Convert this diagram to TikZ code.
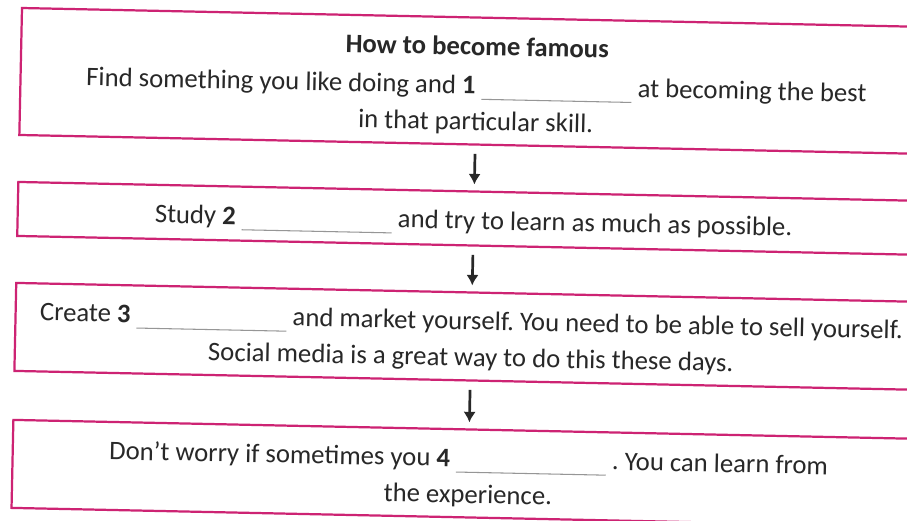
\documentclass[tikz,border=0pt]{standalone}
\usepackage{fontspec}
\setmainfont{Carlito}
\usetikzlibrary{arrows.meta}

\definecolor{framepink}{RGB}{205,35,115}
\definecolor{blankgray}{RGB}{150,150,150}
\definecolor{inkgray}{RGB}{40,40,40}

% answer gap
\newcommand{\blank}{\textcolor{blankgray}{\rule[-5pt]{4.5cm}{0.9pt}}}

\tikzset{
  stepframe/.style={draw=framepink, line width=1.9pt, inner sep=0pt, outer sep=0pt,
    minimum width=27.36cm, anchor=north west},
  steptext/.style={align=center, text=inkgray, font=\fontsize{22.8}{31}\selectfont, yshift=-3.8pt},
  flow/.style={-{Latex[length=9pt,width=10.5pt]}, line width=2.3pt, inkgray,
    shorten <=8pt, shorten >=6pt}
}

\begin{document}
\frenchspacing
\begin{tikzpicture}[x=0.03cm, y=-0.03cm]
  \clip (0,0) rectangle (907,520);
  \fill[white] (0,0) rectangle (907,520);

  \begin{scope}[rotate around={-1.2:(22,8)}, transform shape]
    % frames
    \node[stepframe, minimum height=3.81cm] (b1) at (22,8) {};
    \node[stepframe, minimum height=1.62cm] (b2) at (22,182) {};
    \node[stepframe, minimum height=2.64cm] (b3) at (22,283) {};
    \node[stepframe, minimum height=2.64cm] (b4) at (22,420) {};

    % texts
    \node[steptext] (t1) at (b1.center) {\textbf{How to become famous}\\[2pt]
      Find something you like doing and \textbf{1} \blank{} at becoming the best\\
      in that particular skill.};
    \node[steptext] (t2) at (b2.center) {Study \textbf{2} \blank{} and try to learn as much as possible.};
    \node[steptext] (t3) at (b3.center) {Create \textbf{3} \blank{} and market yourself. You need to be able to sell yourself.\\
      Social media is a great way to do this these days.};
    \node[steptext] (t4) at (b4.center) {Don't worry if sometimes you \textbf{4} \blank{} . You can learn from\\
      the experience.};

    % arrows
    \draw[flow] (b1.south) -- (b2.north);
    \draw[flow] (b2.south) -- (b3.north);
    \draw[flow] (b3.south) -- (b4.north);
  \end{scope}
\end{tikzpicture}
\end{document}
